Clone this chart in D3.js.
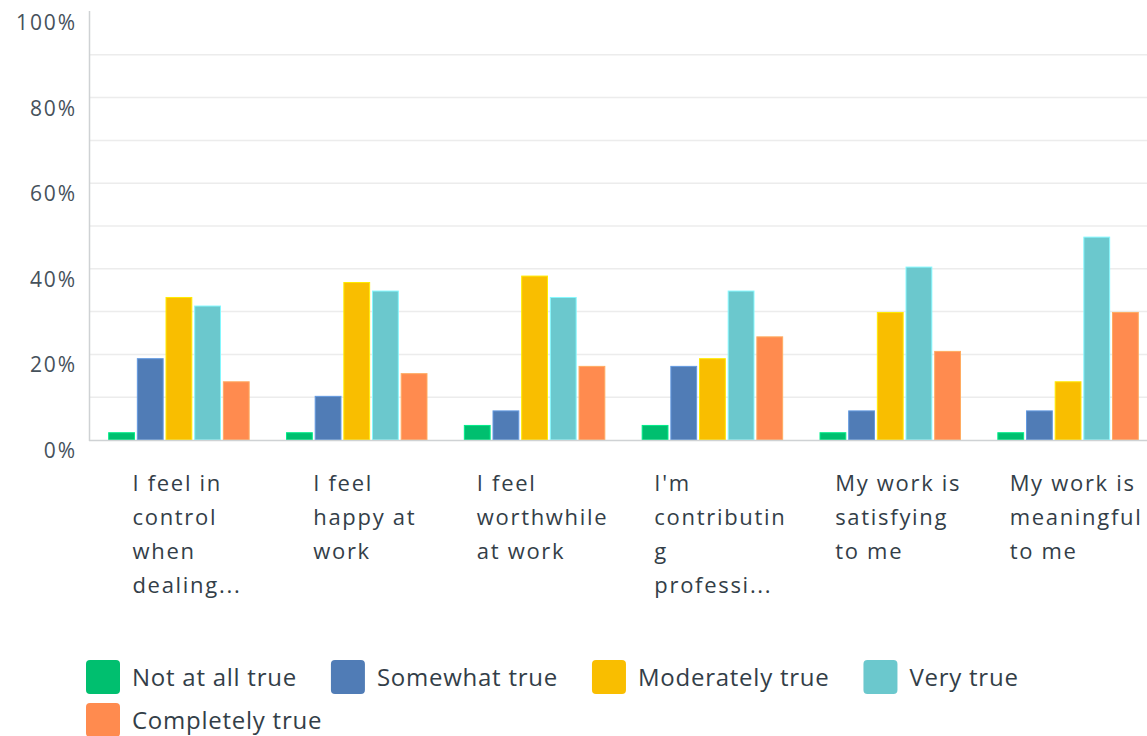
<!DOCTYPE html>
<html>
<head>
<meta charset="utf-8">
<script src="https://cdn.jsdelivr.net/npm/d3@7"></script>
<style>
  body { margin: 0; background: #fff; }
  svg { display: block; font-family: "Open Sans", sans-serif; }
</style>
</head>
<body>
<div id="chart"></div>
<script>
// questions (wrapped the way the chart shows them)
let categories = ["q1", "q2", "q3", "q4", "q5", "q6"];
let categoryLines = [
	["I feel in", "control", "when", "dealing..."],
	["I feel", "happy at", "work"],
	["I feel", "worthwhile", "at work"],
	["I'm", "contributin", "g", "professi..."],
	["My work is", "satisfying", "to me"],
	["My work is", "meaningful", "to me"]
];

let seriesNames = ["Not at all true", "Somewhat true", "Moderately true", "Very true", "Completely true"];
let seriesColors = ["#00bf6f", "#507cb6", "#f9be00", "#6bc8cd", "#ff8b4f"];

// percent of answers, one array per answer
let notAtAll   = [1.7, 1.7, 3.4, 3.4, 1.7, 1.7];
let somewhat   = [19.0, 10.2, 6.8, 17.2, 6.8, 6.8];
let moderately = [33.3, 36.8, 38.3, 19.0, 29.8, 13.6];
let veryTrue   = [31.3, 34.8, 33.3, 34.8, 40.4, 47.4];
let completely = [13.6, 15.5, 17.2, 24.1, 20.7, 29.8];

let yTicks = [0, 20, 40, 60, 80, 100];
let gridTicks = [10, 20, 30, 40, 50, 60, 70, 80, 90];

let seriesValues = [notAtAll, somewhat, moderately, veryTrue, completely];

let width = 1147;
let height = 736;
let textColor = "#333e48";

let svg = d3.select("#chart")
	.append("svg")
	.attr("width", width)
	.attr("height", height);

let y = d3.scaleLinear()
	.domain([0, 100])
	.range([440, 12]);

// the plot runs past the right edge of the picture
let x0 = d3.scaleBand()
	.domain(categories)
	.range([90, 1157])
	.paddingInner(0.21)
	.paddingOuter(0.105);

let x1 = d3.scaleBand()
	.domain(seriesNames)
	.range([0, x0.bandwidth()])
	.paddingInner(0.1);

// gridlines
svg.append("g")
	.selectAll("line")
	.data(gridTicks)
	.enter().append("line")
	.attr("x1", 90)
	.attr("x2", width)
	.attr("y1", d => y(d))
	.attr("y2", d => y(d))
	.attr("stroke", "#ececec")
	.attr("stroke-width", 1.5);

// y labels
svg.append("g")
	.selectAll("text")
	.data(yTicks)
	.enter().append("text")
	.attr("x", 77)
	.attr("y", d => y(d) + 18)
	.attr("text-anchor", "end")
	.attr("font-size", 21)
	.attr("letter-spacing", 1.9)
	.attr("fill", "#46515b")
	.text(d => d + "%");

// bars
let groups = svg.append("g")
	.selectAll("g")
	.data(categories)
	.enter().append("g")
	.attr("transform", d => "translate(" + x0(d) + ",0)");

groups.selectAll("rect")
	.data((d, i) => seriesNames.map((s, j) => ({ name: s, value: seriesValues[j][i], color: seriesColors[j] })))
	.enter().append("rect")
	.attr("x", d => x1(d.name))
	.attr("y", d => y(d.value))
	.attr("width", x1.bandwidth())
	.attr("height", d => y(0) - y(d.value))
	.attr("fill", d => d.color)
	.attr("stroke", d => d3.color(d.color).brighter(0.6))
	.attr("stroke-width", 1);

// axes lines
svg.append("line")
	.attr("x1", 89.5).attr("x2", 89.5)
	.attr("y1", 11).attr("y2", 441)
	.attr("stroke", "#cfd2d4")
	.attr("stroke-width", 1.5);

svg.append("line")
	.attr("x1", 89).attr("x2", width)
	.attr("y1", 440.5).attr("y2", 440.5)
	.attr("stroke", "#cfd2d4")
	.attr("stroke-width", 1.5);

// category labels, left aligned block centered under group
categories.forEach((c, i) => {
	let t = svg.append("text")
		.attr("font-size", 22)
		.attr("letter-spacing", 1.7)
		.attr("fill", textColor);
	categoryLines[i].forEach((line, k) => {
		t.append("tspan")
			.attr("y", 491 + k * 34)
			.text(line);
	});
	let w = d3.max(t.selectAll("tspan").nodes(), n => n.getComputedTextLength());
	let left = x0(c) + x0.bandwidth() / 2 - w / 2 + 8;
	t.selectAll("tspan").attr("x", left);
});

// legend
let legend = svg.append("g");
let lx = 86;
let ly = 660;
seriesNames.forEach((s, i) => {
	let item = legend.append("g");
	item.append("rect")
		.attr("width", 34)
		.attr("height", 34)
		.attr("rx", 4)
		.attr("fill", seriesColors[i]);
	let label = item.append("text")
		.attr("x", 46)
		.attr("y", 26)
		.attr("font-size", 24)
		.attr("letter-spacing", 0.75)
		.attr("fill", textColor)
		.text(s);
	let w = 46 + label.node().getComputedTextLength();
	if (lx + w > 1040) {
		lx = 86;
		ly += 43;
	}
	item.attr("transform", "translate(" + lx + "," + ly + ")");
	lx += w + 34;
});
</script>
</body>
</html>
